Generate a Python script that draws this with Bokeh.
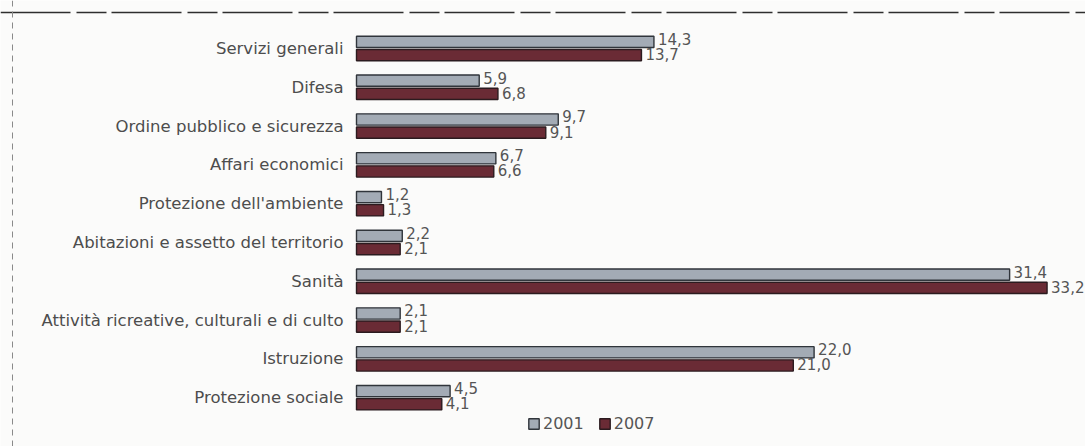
from bokeh.plotting import figure
from bokeh.models import ColumnDataSource, Range1d, Legend, LegendItem, Span
from bokeh.core.properties import value
from bokeh.embed import file_html
from bokeh.resources import INLINE

# Spesa pubblica per funzione (% del totale), 2001 e 2007
categories = [
    "Servizi generali",
    "Difesa",
    "Ordine pubblico e sicurezza",
    "Affari economici",
    "Protezione dell'ambiente",
    "Abitazioni e assetto del territorio",
    "Sanità",
    "Attività ricreative, culturali e di culto",
    "Istruzione",
    "Protezione sociale",
]
v2001 = [14.3, 5.9, 9.7, 6.7, 1.2, 2.2, 31.4, 2.1, 22.0, 4.5]
v2007 = [13.7, 6.8, 9.1, 6.6, 1.3, 2.1, 33.2, 2.1, 21.0, 4.1]
series_names = ["2001", "2007"]

FONT_NAME = "DejaVu Sans"
FONT = value(FONT_NAME)
n = len(categories)
ypos = [n - 1 - i for i in range(n)]          # first category on top
OFF = 0.17                                    # half-distance between paired bars
H = 0.29                                      # bar thickness


def fmt(v):
    return f"{v:.1f}".replace(".", ",")


src = ColumnDataSource(dict(
    cat=categories,
    y=ypos,
    y01=[y + OFF for y in ypos],
    y07=[y - OFF for y in ypos],
    ylab01=[y + OFF + 0.08 for y in ypos],
    ylab07=[y - OFF + 0.03 for y in ypos],
    v01=v2001,
    v07=v2007,
    t01=[fmt(v) for v in v2001],
    t07=[fmt(v) for v in v2007],
))

p = figure(
    width=1085, height=446,
    x_range=Range1d(-356 / 20.8, 729 / 20.8),
    y_range=Range1d(-1.258, 10.237),
    x_axis_type=None, y_axis_type=None,
    toolbar_location=None, output_backend="svg",
    min_border=0, outline_line_color=None,
    background_fill_color="#fbfbfa", border_fill_color="#fbfbfa",
)
p.xgrid.visible = False
p.ygrid.visible = False

# page frame lines of the printed figure
p.add_layout(Span(location=10.237 - 12 / 38.8, dimension="width",
                  line_color="#2e2e2e", line_width=1.6, line_dash="70 6 30 5"))
p.add_layout(Span(location=-356 / 20.8 + 12 / 20.8, dimension="height",
                  line_color="#8a8a8a", line_width=1, line_dash="6 5"))

r01 = p.hbar(y="y01", right="v01", left=0, height=H, source=src,
             fill_color="#a3abb5", line_color="#30353b", line_width=1.4)
r07 = p.hbar(y="y07", right="v07", left=0, height=H, source=src,
             fill_color="#6a2b35", line_color="#2b1b1f", line_width=1.4)

# category names, right-aligned against the bar baseline
p.text(x=0, y="y", text="cat", source=src, x_offset=-13,
       text_align="right", text_baseline="middle",
       text_font=FONT, text_font_size="16.5px", text_color="#4d4d4d")

# value labels
p.text(x="v01", y="ylab01", text="t01", source=src, x_offset=4,
       text_align="left", text_baseline="middle",
       text_font=FONT, text_font_size="15px", text_color="#555555")
p.text(x="v07", y="ylab07", text="t07", source=src, x_offset=4,
       text_align="left", text_baseline="middle",
       text_font=FONT, text_font_size="15px", text_color="#555555")

legend = Legend(
    items=[LegendItem(label=series_names[0], renderers=[r01]),
           LegendItem(label=series_names[1], renderers=[r07])],
    orientation="horizontal", location=(527, 13),
    padding=0, margin=0, spacing=14, label_standoff=3,
    glyph_width=13, glyph_height=13, label_height=16,
    label_text_font=FONT_NAME, label_text_font_size="16px",
    label_text_color="#555555",
    border_line_color=None, background_fill_alpha=0,
)
p.add_layout(legend)

open("out.html", "w").write(file_html(p, INLINE))
